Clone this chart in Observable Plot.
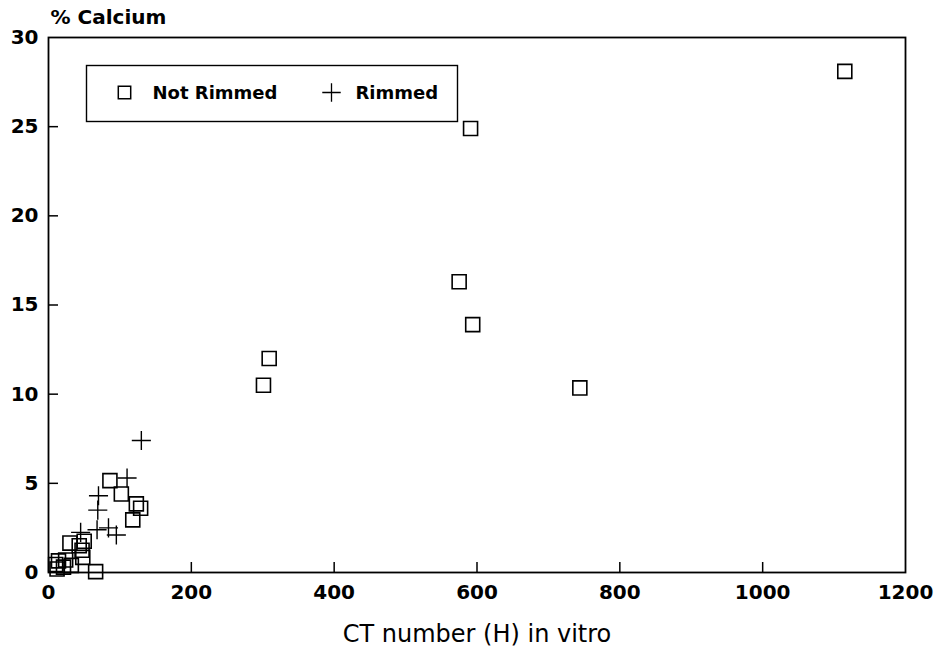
<!DOCTYPE html>
<html>
<head>
<meta charset="utf-8">
<script src="https://cdn.jsdelivr.net/npm/d3@7"></script>
<script src="https://cdn.jsdelivr.net/npm/@observablehq/plot@0.6"></script>
<style>
  html, body { margin: 0; padding: 0; background: #fff; }
  #chart { width: 940px; height: 653px; }
</style>
</head>
<body>
<div id="chart"></div>
<script>
// CT number (H) in vitro vs % Calcium
const notRimmedX = [1115, 591, 575, 594, 309, 301, 744, 86, 102, 123, 129, 118, 30, 50, 47, 48, 14, 24, 12, 21, 66, 10, 32, 43];
const notRimmedY = [28.1, 24.9, 16.3, 13.9, 12.0, 10.5, 10.35, 5.15, 4.4, 3.85, 3.6, 2.95, 1.65, 1.75, 1.25, 0.85, 0.65, 0.7, 0.2, 0.3, 0.05, 0.45, 0.4, 1.5];
const rimmedX = [130, 110, 70, 69, 84, 95, 45, 68];
const rimmedY = [7.4, 5.3, 4.3, 3.5, 2.5, 2.1, 2.25, 2.4];
const xTicks = [0, 200, 400, 600, 800, 1000, 1200];
const yTicks = [0, 5, 10, 15, 20, 25, 30];
const xTitle = "CT number (H) in vitro";
const yTitle = "% Calcium";
const legendLabels = ["Not Rimmed", "Rimmed"];

const notRimmed = notRimmedX.map((x, i) => ({x, y: notRimmedY[i]}));
const rimmed = rimmedX.map((x, i) => ({x, y: rimmedY[i]}));

const W = 940, H = 653, mL = 48, mR = 35, mT = 37, mB = 81;
const plotW = W - mL - mR, plotH = H - mT - mB;

const chart = Plot.plot({
  width: W, height: H,
  marginLeft: mL, marginRight: mR, marginTop: mT, marginBottom: mB,
  style: {fontFamily: "'DejaVu Sans', sans-serif", fontWeight: "bold", fontSize: "20px", color: "#000", background: "#fff"},
  x: {domain: [0, 1200], ticks: xTicks, tickFormat: d3.format("d"), tickSize: 0, tickPadding: 12, label: null},
  y: {domain: [0, 30], ticks: yTicks, tickFormat: d3.format("d"), tickSize: 0, tickPadding: 10, label: null},
  marks: [
    Plot.tickX(xTicks.slice(1, -1), {x: d => d, insetTop: plotH - 10, stroke: "#000", strokeWidth: 1.5}),
    Plot.tickY(yTicks.slice(1, -1), {y: d => d, insetRight: plotW - 10, stroke: "#000", strokeWidth: 1.5}),
    Plot.frame({stroke: "#000", strokeWidth: 1.8}),
    // legend box
    Plot.frame({stroke: "#000", strokeWidth: 1.4, insetLeft: 38, insetTop: 28, insetRight: 448, insetBottom: 451}),
    Plot.dot([0], {frameAnchor: "top-left", dx: 76, dy: 55, symbol: "square", r: 7, stroke: "#000", strokeWidth: 1.5, fill: "none"}),
    Plot.text([legendLabels[0]], {frameAnchor: "top-left", dx: 104, dy: 56, textAnchor: "start", lineAnchor: "middle", fontSize: 18, fontWeight: "bold"}),
    Plot.dot([0], {frameAnchor: "top-left", dx: 283, dy: 55, symbol: "plus", r: 6, stroke: "#000", strokeWidth: 1.3}),
    Plot.text([legendLabels[1]], {frameAnchor: "top-left", dx: 307, dy: 56, textAnchor: "start", lineAnchor: "middle", fontSize: 18, fontWeight: "bold"}),
    // titles
    Plot.text([yTitle], {frameAnchor: "top-left", dx: 2, dy: -20, textAnchor: "start", lineAnchor: "middle", fontSize: 20, fontWeight: "bold"}),
    Plot.text([xTitle], {frameAnchor: "bottom", dy: 62, lineAnchor: "middle", fontSize: 24, fontWeight: "normal"}),
    // data
    Plot.dot(notRimmed, {x: "x", y: "y", symbol: "square", r: 7.9, stroke: "#000", strokeWidth: 1.6, fill: "none"}),
    Plot.dot(rimmed, {x: "x", y: "y", symbol: "plus", r: 6.2, stroke: "#000", strokeWidth: 1.4})
  ]
});
document.getElementById("chart").appendChild(chart);
</script>
</body>
</html>
